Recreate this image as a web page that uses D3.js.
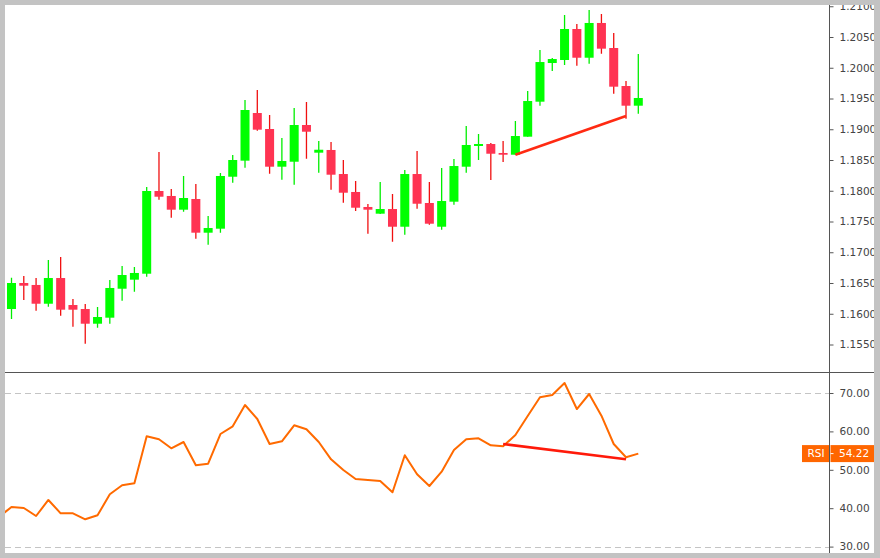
<!DOCTYPE html>
<html><head><meta charset="utf-8">
<script src="https://cdn.jsdelivr.net/npm/d3@7"></script>
<style>html,body{margin:0;padding:0;background:#fff}svg{display:block}</style>
</head><body>
<script>
const opens = [1.16077,1.16500,1.16468,1.16163,1.16581,1.16142,1.16077,1.15838,1.15936,1.16407,1.16554,1.16651,1.17996,1.17915,1.17692,1.17866,1.17318,1.17383,1.18228,1.18489,1.19264,1.19004,1.18391,1.18472,1.19069,1.18619,1.18663,1.18272,1.17980,1.17736,1.17627,1.17703,1.17415,1.18272,1.17801,1.17415,1.17822,1.18391,1.18728,1.18760,1.18614,1.18586,1.18879,1.19448,1.20077,1.20126,1.20630,1.20163,1.20728,1.20321,1.19703,1.19383];
const closes = [1.16500,1.16456,1.16163,1.16581,1.16066,1.16066,1.15838,1.15947,1.16419,1.16630,1.16663,1.17996,1.17903,1.17692,1.17882,1.17318,1.17394,1.18240,1.18500,1.19313,1.18993,1.18391,1.18484,1.19069,1.18960,1.18667,1.18261,1.17968,1.17724,1.17692,1.17703,1.17415,1.18272,1.17789,1.17464,1.17833,1.18402,1.18744,1.18760,1.18602,1.18586,1.18890,1.19459,1.20093,1.20142,1.20630,1.20163,1.20728,1.20310,1.19692,1.19383,1.19508];
const highs = [1.16586,1.16614,1.16581,1.16874,1.16923,1.16240,1.16159,1.16110,1.16549,1.16776,1.16760,1.18061,1.18630,1.18028,1.18240,1.18110,1.17589,1.18289,1.18581,1.19476,1.19638,1.19232,1.18858,1.19346,1.19443,1.18809,1.18793,1.18500,1.18159,1.17785,1.18142,1.17947,1.18337,1.18646,1.18142,1.18370,1.18516,1.19053,1.18923,1.18776,1.18809,1.19134,1.19622,1.20289,1.20159,1.20858,1.20711,1.20939,1.20874,1.20565,1.19785,1.20224];
const lows = [1.15915,1.16224,1.16050,1.16115,1.15968,1.15790,1.15513,1.15773,1.15838,1.16212,1.16359,1.16602,1.17854,1.17562,1.17659,1.17220,1.17123,1.17318,1.18131,1.18375,1.18977,1.18277,1.18180,1.18098,1.18521,1.18293,1.18017,1.17806,1.17671,1.17302,1.17620,1.17172,1.17285,1.17708,1.17448,1.17367,1.17773,1.18293,1.18500,1.18175,1.18467,1.18586,1.18879,1.19383,1.19947,1.20045,1.20033,1.20066,1.20228,1.19578,1.19172,1.19253];
// RSI values, first one belongs to the bar before the first visible candle
const rsi = [37.79,40.31,40.05,37.97,42.14,38.67,38.67,37.11,38.15,43.62,45.96,46.48,58.72,57.94,55.60,57.24,51.17,51.59,59.32,61.33,66.87,63.23,56.72,57.42,61.59,60.55,57.24,52.73,49.95,47.60,47.34,47.08,44.14,53.78,48.83,45.78,49.50,55.16,57.94,58.20,56.38,56.12,59.06,64.01,68.88,69.48,72.60,65.83,69.74,64.09,56.72,53.26,54.22];
const priceTicks = [1.155,1.160,1.165,1.170,1.175,1.180,1.185,1.190,1.195,1.200,1.205,1.210];
const rsiTicks = [30,40,50,60,70];
const rsiLevels = [30,70];
const priceTrend = [{i:41,p:1.18586},{i:50,p:1.19215}];
const rsiTrend = [{i:40,v:56.72},{i:50,v:52.73}];
const rsiLast = 54.22;

const W=880,H=558;
const L=5, R=829, T=5, SEP=372.5, B=553;
const svg=d3.select("body").append("svg").attr("width",W).attr("height",H);
const x=d3.scaleLinear().domain([0,51]).range([11.5,638.3]);
const y=d3.scaleLinear().domain([1.155,1.205]).range([344.5,37]);
const yr=d3.scaleLinear().domain([30,70]).range([546.6,393]);

const defs=svg.append("defs");
defs.append("clipPath").attr("id","cp").append("rect").attr("x",L).attr("y",T).attr("width",R-L).attr("height",SEP-T);
defs.append("clipPath").attr("id","cr").append("rect").attr("x",L).attr("y",SEP).attr("width",R-L).attr("height",B-SEP);

const idx=d3.range(opens.length);
const gp=svg.append("g").attr("clip-path","url(#cp)");
gp.selectAll("line.w").data(idx).join("line")
 .attr("x1",i=>x(i)).attr("x2",i=>x(i)).attr("y1",i=>y(highs[i])).attr("y2",i=>y(lows[i]))
 .attr("stroke",i=>closes[i]>=opens[i]?"#00ee00":"#f01010").attr("stroke-width",1.3);
const bw=9;
gp.selectAll("rect.b").data(idx).join("rect")
 .attr("x",i=>x(i)-bw/2).attr("width",bw)
 .attr("y",i=>y(Math.max(opens[i],closes[i])))
 .attr("height",i=>Math.max(1.5,Math.abs(y(opens[i])-y(closes[i]))))
 .attr("fill",i=>closes[i]>=opens[i]?"#00ff00":"#ff3352");
gp.append("line").attr("x1",x(priceTrend[0].i)).attr("y1",y(priceTrend[0].p))
 .attr("x2",x(priceTrend[1].i)).attr("y2",y(priceTrend[1].p))
 .attr("stroke","#ff2a12").attr("stroke-width",2.6);

// RSI panel
const gr=svg.append("g").attr("clip-path","url(#cr)");
gr.selectAll("line.lv").data(rsiLevels).join("line")
 .attr("x1",L).attr("x2",R).attr("y1",d=>Math.round(yr(d))+0.5).attr("y2",d=>Math.round(yr(d))+0.5)
 .attr("stroke","#c4c4c4").attr("stroke-dasharray","6,4");
const line=d3.line().x((d,k)=>x(k-1)).y(d=>yr(d));
gr.append("path").datum(rsi).attr("d",line).attr("fill","none").attr("stroke","#ff6a00").attr("stroke-width",2).attr("stroke-linejoin","round");
gr.append("line").attr("x1",x(rsiTrend[0].i)).attr("y1",yr(rsiTrend[0].v))
 .attr("x2",x(rsiTrend[1].i)).attr("y2",yr(rsiTrend[1].v))
 .attr("stroke","#ff1a0a").attr("stroke-width",2.6);

// axes
const font="'DejaVu Sans', Verdana, sans-serif";
const ap=svg.append("g").attr("transform",`translate(${R+0.5},0)`)
 .call(d3.axisRight(y).tickValues(priceTicks).tickFormat(d3.format(".5f")).tickSize(4).tickPadding(6));
const ar=svg.append("g").attr("transform",`translate(${R+0.5},0)`)
 .call(d3.axisRight(yr).tickValues(rsiTicks).tickFormat(d3.format(".2f")).tickSize(4).tickPadding(6));
[ap,ar].forEach(a=>{
  a.select(".domain").remove();
  a.selectAll(".tick line").attr("stroke","#555");
  a.selectAll(".tick text").attr("fill","#444").style("font-family",font).style("font-size","10.5px");
});
svg.append("line").attr("x1",R+0.5).attr("x2",R+0.5).attr("y1",T).attr("y2",B).attr("stroke","#555");
svg.append("line").attr("x1",L).attr("x2",W).attr("y1",SEP).attr("y2",SEP).attr("stroke","#555");

// RSI label
const ly=yr(rsiLast);
svg.append("rect").attr("x",802).attr("y",ly-8.5).attr("width",R-802).attr("height",17).attr("fill","#ff6600");
svg.append("rect").attr("x",R+1.5).attr("y",ly-8.5).attr("width",W-R).attr("height",17).attr("fill","#ff6600");
svg.append("line").attr("x1",R+1.5).attr("x2",R+4.5).attr("y1",ly).attr("y2",ly).attr("stroke","#fff");
svg.append("text").attr("x",816).attr("y",ly).attr("dy","0.35em").attr("text-anchor","middle")
 .attr("fill","#fff").style("font-family",font).style("font-size","10.5px").text("RSI");
svg.append("text").attr("x",R+10).attr("y",ly).attr("dy","0.35em")
 .attr("fill","#fff").style("font-family",font).style("font-size","10.5px").text(d3.format(".2f")(rsiLast));

// gray frame
const fr="#c3c3c3";
svg.append("rect").attr("x",0).attr("y",0).attr("width",W).attr("height",T).attr("fill",fr);
svg.append("rect").attr("x",0).attr("y",0).attr("width",L).attr("height",H).attr("fill",fr);
svg.append("rect").attr("x",874).attr("y",0).attr("width",W-874).attr("height",H).attr("fill",fr);
svg.append("rect").attr("x",0).attr("y",B).attr("width",W).attr("height",H-B).attr("fill",fr);
</script>
</body></html>
